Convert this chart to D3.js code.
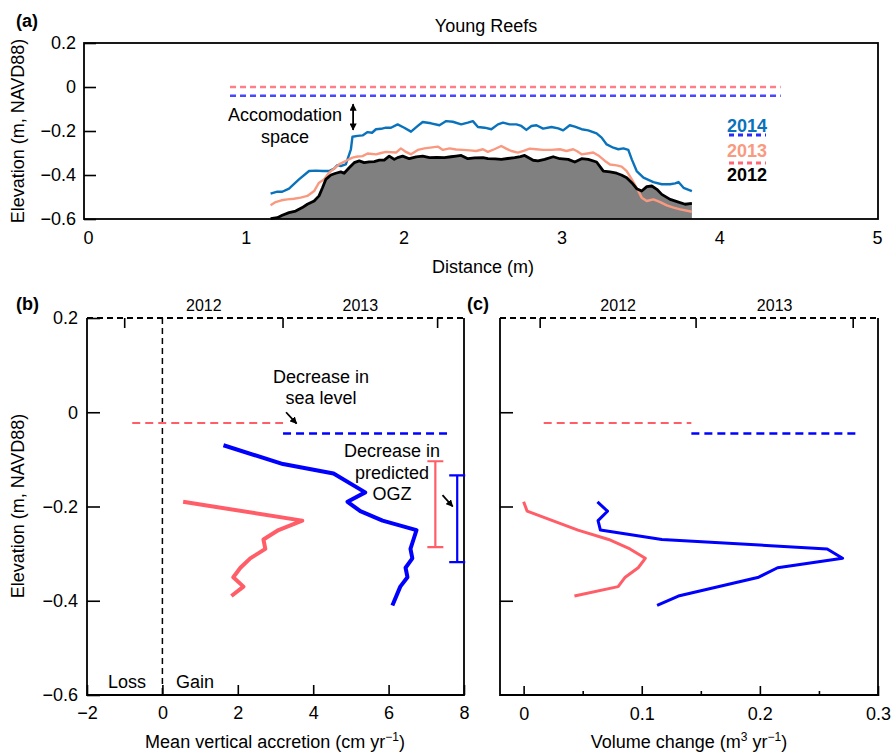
<!DOCTYPE html>
<html lang="en">
<head>
<meta charset="UTF-8">
<title>Young Reefs</title>
<script src="https://d3js.org/d3.v7.min.js"></script>
<style>
  body { margin: 0; background: #fff; }
  svg { font-family: "Liberation Sans", Arial, sans-serif; }
</style>
</head>
<body>
<div id="chart"></div>
<script>
// ---- panel (a): reef elevation profiles [distance m, elevation m] ----
const profile2012 = [[1.157,-0.598],[1.200,-0.594],[1.231,-0.583],[1.274,-0.571],[1.316,-0.564],[1.358,-0.548],[1.390,-0.533],[1.433,-0.518],[1.464,-0.495],[1.486,-0.458],[1.507,-0.420],[1.539,-0.400],[1.570,-0.392],[1.602,-0.386],[1.623,-0.392],[1.655,-0.367],[1.687,-0.344],[1.719,-0.336],[1.750,-0.344],[1.782,-0.340],[1.814,-0.339],[1.846,-0.332],[1.877,-0.332],[1.909,-0.314],[1.941,-0.329],[1.962,-0.321],[1.994,-0.314],[2.036,-0.326],[2.080,-0.318],[2.121,-0.314],[2.164,-0.321],[2.210,-0.320],[2.259,-0.321],[2.300,-0.317],[2.333,-0.314],[2.365,-0.311],[2.407,-0.326],[2.450,-0.322],[2.503,-0.321],[2.534,-0.326],[2.580,-0.327],[2.619,-0.329],[2.660,-0.325],[2.704,-0.321],[2.740,-0.316],[2.767,-0.311],[2.821,-0.333],[2.852,-0.336],[2.894,-0.329],[2.948,-0.317],[2.990,-0.326],[3.043,-0.329],[3.085,-0.341],[3.128,-0.326],[3.170,-0.329],[3.223,-0.341],[3.266,-0.382],[3.308,-0.386],[3.350,-0.392],[3.380,-0.400],[3.414,-0.412],[3.446,-0.435],[3.477,-0.462],[3.509,-0.473],[3.541,-0.453],[3.573,-0.450],[3.605,-0.465],[3.636,-0.488],[3.689,-0.511],[3.742,-0.523],[3.784,-0.533],[3.827,-0.529]];
const profile2013 = [[1.157,-0.538],[1.189,-0.523],[1.226,-0.515],[1.263,-0.511],[1.305,-0.508],[1.348,-0.503],[1.390,-0.495],[1.433,-0.473],[1.464,-0.435],[1.496,-0.420],[1.528,-0.389],[1.560,-0.371],[1.591,-0.352],[1.645,-0.332],[1.676,-0.321],[1.708,-0.316],[1.740,-0.314],[1.772,-0.302],[1.825,-0.306],[1.857,-0.300],[1.888,-0.295],[1.952,-0.298],[1.983,-0.279],[2.015,-0.295],[2.047,-0.306],[2.090,-0.286],[2.132,-0.279],[2.217,-0.271],[2.249,-0.286],[2.291,-0.279],[2.333,-0.284],[2.376,-0.286],[2.420,-0.288],[2.460,-0.291],[2.503,-0.283],[2.534,-0.295],[2.575,-0.283],[2.619,-0.268],[2.650,-0.280],[2.683,-0.291],[2.725,-0.298],[2.760,-0.290],[2.799,-0.280],[2.840,-0.283],[2.884,-0.286],[2.937,-0.286],[2.990,-0.283],[3.032,-0.291],[3.075,-0.283],[3.100,-0.292],[3.128,-0.306],[3.165,-0.302],[3.202,-0.298],[3.234,-0.311],[3.276,-0.336],[3.308,-0.352],[3.350,-0.356],[3.382,-0.362],[3.414,-0.382],[3.446,-0.420],[3.477,-0.458],[3.509,-0.503],[3.541,-0.518],[3.583,-0.511],[3.626,-0.523],[3.668,-0.538],[3.711,-0.548],[3.753,-0.556],[3.827,-0.567]];
const profile2014 = [[1.157,-0.485],[1.200,-0.476],[1.231,-0.476],[1.274,-0.462],[1.337,-0.420],[1.401,-0.382],[1.445,-0.380],[1.486,-0.382],[1.528,-0.382],[1.560,-0.371],[1.581,-0.355],[1.602,-0.359],[1.634,-0.352],[1.666,-0.283],[1.676,-0.226],[1.708,-0.222],[1.740,-0.220],[1.772,-0.205],[1.800,-0.208],[1.825,-0.192],[1.857,-0.190],[1.888,-0.185],[1.920,-0.185],[1.962,-0.170],[2.004,-0.185],[2.047,-0.203],[2.090,-0.177],[2.121,-0.159],[2.174,-0.165],[2.227,-0.174],[2.270,-0.155],[2.312,-0.158],[2.365,-0.170],[2.407,-0.162],[2.439,-0.155],[2.471,-0.182],[2.513,-0.185],[2.556,-0.192],[2.598,-0.170],[2.630,-0.162],[2.672,-0.170],[2.715,-0.170],[2.746,-0.177],[2.778,-0.195],[2.810,-0.177],[2.842,-0.174],[2.884,-0.189],[2.937,-0.182],[2.980,-0.188],[3.011,-0.197],[3.053,-0.174],[3.085,-0.180],[3.128,-0.192],[3.170,-0.197],[3.223,-0.211],[3.255,-0.230],[3.287,-0.261],[3.329,-0.276],[3.361,-0.283],[3.393,-0.279],[3.424,-0.286],[3.446,-0.329],[3.477,-0.382],[3.520,-0.412],[3.583,-0.432],[3.636,-0.442],[3.689,-0.442],[3.721,-0.438],[3.742,-0.432],[3.774,-0.458],[3.827,-0.473]];
// mean sea level lines in (a): [x start, x end, elevation]
const seaLevel2012 = [0.9, 4.39, 0.0];
const seaLevel2014 = [0.9, 4.39, -0.04];
const legendYears = ["2014", "2013", "2012"];

// ---- panel (b): mean vertical accretion by elevation ----
const elevRed = [-0.19,-0.23,-0.25,-0.27,-0.29,-0.31,-0.33,-0.35,-0.37,-0.39];
const accretionRed = [0.55,3.71,3.08,2.68,2.73,2.33,2.07,1.88,2.15,1.83];
const elevBlue = [-0.07,-0.11,-0.13,-0.17,-0.19,-0.21,-0.23,-0.25,-0.27,-0.29,-0.31,-0.33,-0.35,-0.37,-0.41];
const accretionBlue = [1.62,3.2,4.54,5.38,4.91,5.25,5.84,6.74,6.66,6.58,6.63,6.45,6.50,6.31,6.10];
const seaLevelB = [[-0.8, 3.2, -0.023], [3.2, 7.65, -0.045]];
const ogzBars = [[7.24, -0.104, -0.286], [7.82, -0.134, -0.318]];
const yearTicksB = [-1.0, 3.2, 7.3];

// ---- panel (c): volume change by elevation ----
const elevRedC = [-0.19,-0.21,-0.25,-0.27,-0.29,-0.31,-0.33,-0.35,-0.37,-0.39];
const volumeRed = [0.0,0.003,0.046,0.072,0.090,0.103,0.097,0.086,0.080,0.043];
const elevBlueC = [-0.19,-0.21,-0.23,-0.25,-0.27,-0.29,-0.31,-0.33,-0.35,-0.39,-0.41];
const volumeBlue = [0.0625,0.071,0.063,0.065,0.117,0.257,0.270,0.215,0.199,0.131,0.113];
const seaLevelC = [[0.017, 0.142, -0.023], [0.142, 0.285, -0.045]];
const yearTicksC = [0.014, 0.146, 0.279];
const yearLabels = ["2012", "2013"];

const RED = "#ff5e68", BLUE = "#0000ff";
const C2014 = "#0a72bb", C2013 = "#f99a80";
const FS = 18;

const svg = d3.select("#chart").append("svg")
    .attr("width", 892).attr("height", 756);

svg.append("defs").append("marker")
    .attr("id", "head").attr("viewBox", "0 0 10 10")
    .attr("refX", 9).attr("refY", 5)
    .attr("markerWidth", 4).attr("markerHeight", 4)
    .attr("orient", "auto-start-reverse")
    .append("path").attr("d", "M0,0L10,5L0,10z").attr("fill", "#000");

const fmt = d => d === 0 ? "0" : d3.format(".1f")(d);

function styleAxis(g) {
    g.selectAll(".domain").remove();
    g.selectAll("line").attr("stroke", "#000").attr("stroke-width", 1.6);
    g.selectAll("text").attr("font-size", FS).attr("fill", "#000")
        .attr("font-family", "Liberation Sans, Arial, sans-serif");
}

function label(x, y, txt, opts = {}) {
    return svg.append("text").attr("x", x).attr("y", y)
        .attr("text-anchor", opts.anchor || "middle")
        .attr("font-size", opts.size || FS)
        .attr("font-weight", opts.bold ? "bold" : "normal")
        .attr("fill", opts.fill || "#000")
        .text(txt);
}

// =================== panel (a) ===================
const xa = d3.scaleLinear().domain([0, 5]).range([88, 877]);
const ya = d3.scaleLinear().domain([-0.6, 0.2]).range([219, 43]);
const ga = svg.append("g");

ga.append("path")
    .datum(profile2012)
    .attr("fill", "#808080")
    .attr("d", d3.area().x(d => xa(d[0])).y0(ya(-0.6)).y1(d => ya(d[1])));

[[seaLevel2012, "#ff7f88"], [seaLevel2014, "#4848ff"]].forEach(([s, c]) => {
    ga.append("line")
        .attr("x1", xa(s[0])).attr("x2", xa(s[1]))
        .attr("y1", ya(s[2])).attr("y2", ya(s[2]))
        .attr("stroke", c).attr("stroke-width", 2.5)
        .attr("stroke-dasharray", "6,4");
});

const lineA = d3.line().x(d => xa(d[0])).y(d => ya(d[1]));
[[profile2014, C2014, 2.4], [profile2013, C2013, 2.4], [profile2012, "#000", 2.8]].forEach(([p, c, w]) => {
    ga.append("path").datum(p).attr("fill", "none")
        .attr("stroke", c).attr("stroke-width", w)
        .attr("stroke-linejoin", "round").attr("d", lineA);
});

ga.append("rect").attr("x", 84).attr("y", ya(0.2))
    .attr("width", 878 - 84).attr("height", ya(-0.6) - ya(0.2))
    .attr("fill", "none").attr("stroke", "#000").attr("stroke-width", 1.8);

ga.append("g").attr("transform", "translate(84,0)")
    .call(d3.axisLeft(ya).tickValues([0.2, 0, -0.2, -0.4, -0.6])
        .tickFormat(fmt).tickSizeInner(-12).tickSizeOuter(0).tickPadding(8))
    .call(styleAxis);
ga.append("g").attr("transform", `translate(0,${ya(-0.6)})`)
    .call(d3.axisBottom(xa).ticks(5).tickSize(0).tickPadding(12))
    .call(styleAxis);

// accommodation space arrow
ga.append("line")
    .attr("x1", xa(1.68)).attr("x2", xa(1.68))
    .attr("y1", ya(-0.078)).attr("y2", ya(-0.195))
    .attr("stroke", "#000").attr("stroke-width", 1.8)
    .attr("marker-start", "url(#head)").attr("marker-end", "url(#head)");
label(285, 121, "Accomodation");
label(285, 143, "space");

// legend
const legendColors = [C2014, C2013, "#000"];
legendYears.forEach((yr, i) => {
    label(747, 132 + i * 24.5, yr, { bold: true, fill: legendColors[i], size: 18 });
});
[["#2a2aff", 135], ["#ff6677", 163]].forEach(([c, y]) => {
    ga.append("line").attr("x1", 729).attr("x2", 766).attr("y1", y).attr("y2", y)
        .attr("stroke", c).attr("stroke-width", 3).attr("stroke-dasharray", "5,4");
});

label(16, 27, "(a)", { anchor: "start", bold: true, size: 18 });
label(486, 32, "Young Reefs");
label(483, 273, "Distance (m)");
svg.append("text").attr("transform", `translate(24,131) rotate(-90)`)
    .attr("text-anchor", "middle").attr("font-size", FS).text("Elevation (m, NAVD88)");

// =================== panels (b) and (c) ===================
const yb = d3.scaleLinear().domain([-0.6, 0.2]).range([695, 318]);
const xb = d3.scaleLinear().domain([-2, 8]).range([87, 464]);
const xc = d3.scaleLinear().domain([-0.02, 0.3]).range([500, 878]);

function framePanel(x, yearTicks, left, right) {
    const g = svg.append("g");
    // solid left, bottom, right borders
    g.append("path")
        .attr("d", `M${left},${yb(0.2)}V${yb(-0.6)}H${right}V${yb(0.2)}`)
        .attr("fill", "none").attr("stroke", "#000").attr("stroke-width", 1.8);
    // dashed top year axis
    g.append("line").attr("x1", left).attr("x2", right)
        .attr("y1", yb(0.2)).attr("y2", yb(0.2))
        .attr("stroke", "#000").attr("stroke-width", 1.8).attr("stroke-dasharray", "6,4");
    yearTicks.forEach(t => {
        g.append("line").attr("x1", x(t)).attr("x2", x(t))
            .attr("y1", yb(0.2)).attr("y2", yb(0.2) + 10)
            .attr("stroke", "#000").attr("stroke-width", 1.6);
    });
    yearLabels.forEach((yl, i) => {
        g.append("text").attr("x", (x(yearTicks[i]) + x(yearTicks[i + 1])) / 2)
            .attr("y", 311).attr("text-anchor", "middle").attr("font-size", 16).text(yl);
    });
    return g;
}

function profileLine(g, x, vals, elevs, color, w) {
    g.append("path").datum(d3.zip(vals, elevs)).attr("fill", "none")
        .attr("stroke", color).attr("stroke-width", w).attr("stroke-linejoin", "round")
        .attr("d", d3.line().x(d => x(d[0])).y(d => yb(d[1])));
}

function seaLines(g, x, lines) {
    [[lines[0], RED, 2], [lines[1], BLUE, 2.5]].forEach(([s, c, w]) => {
        g.append("line").attr("x1", x(s[0])).attr("x2", x(s[1]))
            .attr("y1", yb(s[2])).attr("y2", yb(s[2]))
            .attr("stroke", c).attr("stroke-width", w).attr("stroke-dasharray", "8,5");
    });
}

// ---- (b)
const gb = framePanel(xb, yearTicksB, 87, 464);
gb.append("line").attr("x1", xb(0)).attr("x2", xb(0))
    .attr("y1", yb(0.2)).attr("y2", yb(-0.6))
    .attr("stroke", "#000").attr("stroke-width", 1.5).attr("stroke-dasharray", "6,4");
seaLines(gb, xb, seaLevelB);
profileLine(gb, xb, accretionBlue, elevBlue, BLUE, 4);
profileLine(gb, xb, accretionRed, elevRed, RED, 4);

[[ogzBars[0], RED], [ogzBars[1], BLUE]].forEach(([b, c]) => {
    const px = xb(b[0]);
    gb.append("path")
        .attr("d", `M${px - 8},${yb(b[1])}H${px + 8}M${px},${yb(b[1])}V${yb(b[2])}M${px - 8},${yb(b[2])}H${px + 8}`)
        .attr("fill", "none").attr("stroke", c).attr("stroke-width", 2.2);
});

gb.append("g").attr("transform", `translate(87,0)`)
    .call(d3.axisLeft(yb).tickValues([0.2, 0, -0.2, -0.4, -0.6])
        .tickFormat(fmt).tickSizeInner(-13).tickSizeOuter(0).tickPadding(9))
    .call(styleAxis);
gb.append("g").attr("transform", `translate(0,695)`)
    .call(d3.axisBottom(xb).tickValues([-2, 0, 2, 4, 6, 8]).tickFormat(d3.format("d"))
        .tickSizeInner(-10).tickSizeOuter(0).tickPadding(11))
    .call(styleAxis);

// annotations (b)
[[3.28, 0.0, 3.56, -0.024], [7.43, -0.176, 7.7, -0.2]].forEach(a => {
    gb.append("line").attr("x1", xb(a[0])).attr("y1", yb(a[1]))
        .attr("x2", xb(a[2])).attr("y2", yb(a[3]))
        .attr("stroke", "#000").attr("stroke-width", 1.8).attr("marker-end", "url(#head)");
});
label(321, 383, "Decrease in");
label(321, 404, "sea level");
label(392, 457, "Decrease in");
label(392, 479, "predicted");
label(392, 500, "OGZ");
label(127, 688, "Loss");
label(195, 688, "Gain");

label(16, 310, "(b)", { anchor: "start", bold: true, size: 18 });
svg.append("text").attr("transform", `translate(24,506) rotate(-90)`)
    .attr("text-anchor", "middle").attr("font-size", FS).text("Elevation (m, NAVD88)");
const tb = label(275, 748, "Mean vertical accretion (cm yr");
tb.append("tspan").attr("font-size", 12).attr("dy", -7).text("−1");
tb.append("tspan").attr("dy", 7).text(")");

// ---- (c)
const gc = framePanel(xc, yearTicksC, 500, 878);
seaLines(gc, xc, seaLevelC);
profileLine(gc, xc, volumeRed, elevRedC, RED, 3);
profileLine(gc, xc, volumeBlue, elevBlueC, BLUE, 3);

gc.append("g").attr("transform", `translate(500,0)`)
    .call(d3.axisLeft(yb).tickValues([0, -0.2, -0.4])
        .tickFormat("").tickSizeInner(-13).tickSizeOuter(0))
    .call(styleAxis);
gc.append("g").attr("transform", `translate(0,696)`)
    .call(d3.axisBottom(xc).tickValues([0, 0.1, 0.2, 0.3]).tickFormat(d => d === 0 ? "0" : d3.format(".1f")(d))
        .tickSizeInner(-10).tickSizeOuter(0).tickPadding(11))
    .call(styleAxis);
gc.append("g").attr("transform", `translate(0,696)`)
    .call(d3.axisBottom(xc).tickValues([0.05, 0.15, 0.25]).tickFormat("")
        .tickSizeInner(-5).tickSizeOuter(0))
    .call(styleAxis);

label(467, 310, "(c)", { anchor: "start", bold: true, size: 18 });
const tc = label(689, 748, "Volume change (m");
tc.append("tspan").attr("font-size", 12).attr("dy", -7).text("3");
tc.append("tspan").attr("dy", 7).text(" yr");
tc.append("tspan").attr("font-size", 12).attr("dy", -7).text("−1");
tc.append("tspan").attr("dy", 7).text(")");
</script>
</body>
</html>
